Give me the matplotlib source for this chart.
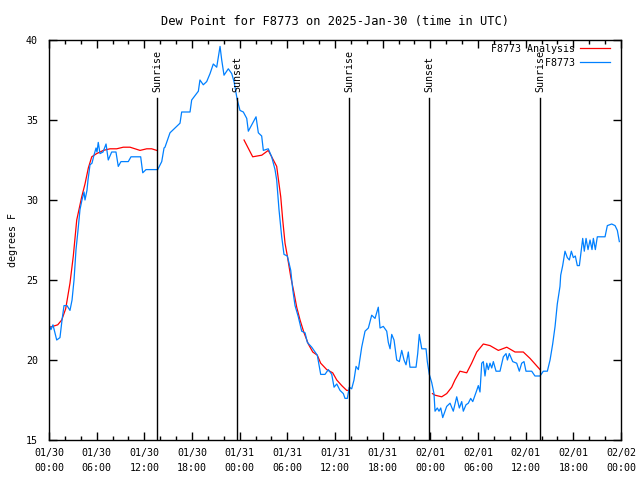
import numpy as np
from matplotlib import pyplot as plt

# hours since 2025-01-30 00:00 UTC
obs_hours = [0.0, 0.25, 0.5, 0.97, 1.38, 1.64, 1.89, 2.27, 2.64, 2.9, 3.15, 3.27, 3.4, 3.65,
             3.9, 4.15, 4.41, 4.53, 4.78, 4.91, 5.16, 5.41, 5.66, 5.92, 6.04, 6.2, 6.42, 6.8,
             7.18, 7.46, 7.89, 8.43, 8.72, 9.06, 9.98, 10.32, 11.54, 11.8, 12.21, 13.68, 14.19,
             14.48, 14.6, 15.23, 15.86, 16.49, 16.7, 17.75, 17.96, 18.8, 19.0, 19.42, 19.85,
             20.27, 20.68, 21.11, 21.53, 21.74, 22.03, 22.57, 23.0, 23.29, 23.7, 24.04, 24.46,
             24.89, 25.09, 25.52, 26.06, 26.35, 26.77, 26.98, 27.6, 28.03, 28.45, 28.66, 28.95,
             29.29, 29.58, 30.0, 30.43, 30.68, 30.97, 31.38, 31.81, 32.23, 32.52, 33.07, 33.77,
             34.2, 34.74, 35.16, 35.59, 35.88, 36.22, 36.63, 37.05, 37.26, 37.55, 37.8, 38.1,
             38.39, 38.65, 38.94, 39.36, 39.78, 40.2, 40.62, 41.04, 41.45, 41.67, 42.08, 42.51,
             42.71, 42.93, 43.14, 43.43, 43.77, 44.1, 44.4, 44.69, 44.94, 45.23, 45.44, 46.2,
             46.41, 46.61, 46.92, 47.46, 47.62, 47.87, 48.17, 48.46, 48.59, 48.88, 49.09, 49.31,
             49.56, 49.85, 50.06, 50.48, 50.89, 51.32, 51.65, 51.95, 52.15, 52.49, 52.78, 53.08,
             53.34, 53.63, 53.84, 54.04, 54.25, 54.47, 54.67, 54.88, 55.1, 55.3, 55.51, 55.73,
             55.93, 56.27, 56.77, 57.19, 57.53, 57.7, 57.94, 58.37, 58.87, 59.2, 59.5, 59.79,
             60.04, 60.76, 61.17, 61.81, 62.22, 62.73, 63.07, 63.4, 63.7, 63.98, 64.32, 64.41,
             64.66, 64.95, 65.24, 65.5, 65.75, 66.0, 66.25, 66.5, 66.76, 66.93, 67.18, 67.38,
             67.6, 67.85, 68.1, 68.35, 68.52, 68.77, 69.02, 69.99, 70.28, 70.83, 71.25, 71.54,
             71.79]
obs_dewpt = [22.2, 21.9, 22.2, 21.25, 21.4, 22.5, 23.4, 23.4, 23.1, 23.75, 25.0, 25.9, 26.9, 28.1,
             29.4, 30.0, 30.5, 30.0, 30.6, 31.25, 32.2, 32.3, 32.8, 33.25, 33.0, 33.6, 32.9, 33.0,
             33.5, 32.5, 33.0, 33.0, 32.1, 32.4, 32.4, 32.7, 32.7, 31.7, 31.9, 31.9, 32.4,
             33.25, 33.3, 34.2, 34.5, 34.8, 35.5, 35.5, 36.25, 36.8, 37.5, 37.2, 37.4,
             37.9, 38.5, 38.3, 39.6, 38.75, 37.8, 38.2, 37.9, 37.4, 36.25, 35.6, 35.5,
             35.1, 34.3, 34.7, 35.2, 34.2, 34.0, 33.1, 33.2, 32.7, 31.9, 31.25, 29.4,
             27.7, 26.6, 26.5, 25.6, 24.4, 23.4, 22.7, 21.8, 21.7, 21.1, 20.8, 20.3,
             19.1, 19.1, 19.4, 19.1, 18.3, 18.5, 18.1, 17.9, 17.6, 17.6, 18.3, 18.2,
             18.75, 19.6, 19.4, 20.8, 21.8, 22.0, 22.8, 22.6, 23.3, 22.0, 22.1, 21.8,
             21.1, 20.7, 21.6, 21.25, 20.0, 19.9, 20.6, 20.0, 19.7, 20.5, 19.55, 19.55,
             20.4, 21.6, 20.7, 20.7, 19.9, 19.1, 18.6, 17.9, 16.8, 17.0, 16.8, 17.0,
             16.4, 16.8, 17.1, 17.3, 16.8, 17.7, 17.0, 17.4, 16.8, 17.2, 17.3, 17.6,
             17.4, 17.8, 18.1, 18.4, 18.0, 19.8, 19.9, 19.0, 19.8, 19.4, 19.8, 19.5,
             19.9, 19.3, 19.3, 20.2, 20.4, 20.0, 20.4, 19.9, 19.8, 19.3, 19.8, 19.9,
             19.3, 19.3, 19.0, 19.0, 19.3, 19.3, 20.0, 21.0, 22.1, 23.5, 24.6, 25.3,
             25.9, 26.8, 26.4, 26.25, 26.8, 26.4, 26.5, 25.9, 25.9, 26.6, 27.6, 26.8,
             27.6, 26.9, 27.5, 26.9, 27.6, 26.9, 27.7, 27.7, 28.4, 28.5, 28.4, 28.1,
             27.4]

# analysis, nan marks the gaps
ana_hours = [0.13, 0.34, 1.1, 1.6, 2.1, 2.64, 3.06, 3.49, 4.12, 4.53, 4.95, 5.38, 6.0, 6.84,
             7.68, 8.52, 9.35, 10.2, 10.83, 11.46, 12.3, 12.93, 13.56, 19.0,
             24.55, 25.64, 26.78, 27.6, 28.24, 28.66, 28.86, 29.17, 29.42, 29.71, 30.0, 30.43,
             30.84, 31.18, 31.6, 32.1, 32.64, 33.2, 33.77, 34.2, 34.96, 35.71, 36.22, 36.85,
             37.47, 37.68, 43.0,
             48.27, 48.59, 49.43, 50.06, 50.69, 51.1, 51.73, 52.58, 53.2, 53.84, 54.67, 55.51,
             56.56, 57.62, 58.66, 59.7, 60.55, 61.81]
ana_dewpt = [22.06, 22.08, 22.2, 22.5, 23.2, 24.8, 26.5, 28.75, 30.2, 31.0, 32.0, 32.7, 32.9, 33.1,
             33.2, 33.2, 33.3, 33.3, 33.2, 33.1, 33.2, 33.2, 33.1, np.nan,
             33.75, 32.7, 32.8, 33.1, 32.5, 32.1, 31.35, 30.2, 28.75, 27.3, 26.5, 25.2,
             24.2, 23.3, 22.5, 21.7, 21.0, 20.5, 20.3, 19.8, 19.4, 19.2, 18.75, 18.4,
             18.1, 18.1, np.nan,
             17.9, 17.8, 17.7, 17.9, 18.3, 18.75, 19.3, 19.2, 19.8, 20.5, 21.0, 20.9,
             20.6, 20.8, 20.5, 20.5, 20.1, 19.4]

sun_hours = [13.63, 23.72, 37.8, 47.87, 61.85]
sun_labels = ['Sunrise', 'Sunset', 'Sunrise', 'Sunset', 'Sunrise']

tick_hours = list(range(0, 73, 6))
tick_labels = ['01/30\n00:00', '01/30\n06:00', '01/30\n12:00', '01/30\n18:00',
               '01/31\n00:00', '01/31\n06:00', '01/31\n12:00', '01/31\n18:00',
               '02/01\n00:00', '02/01\n06:00', '02/01\n12:00', '02/01\n18:00',
               '02/02\n00:00']

plt.rcParams['font.family'] = 'DejaVu Sans Mono'
plt.rcParams['font.size'] = 7.2

fig = plt.figure(figsize=(6.4, 4.8), dpi=100)
ax = fig.add_axes([49 / 640, 40 / 480, 572 / 640, 400 / 480])

ax.plot(ana_hours, ana_dewpt, color='#ff0000', lw=0.9, label='F8773 Analysis')
ax.plot(obs_hours, obs_dewpt, color='#0080ff', lw=0.9, label='         F8773')

for h, lab in zip(sun_hours, sun_labels):
    ax.axvline(h, ymin=0, ymax=0.855, color='black', lw=1.0)
    ax.text(h, 0.87, lab, rotation=90, ha='center', va='bottom',
            transform=ax.get_xaxis_transform())

ax.set_xlim(0, 72)
ax.set_ylim(15, 40)
ax.set_xticks(tick_hours)
ax.set_xticklabels(tick_labels, linespacing=1.6)
ax.set_xticks(np.arange(0, 73, 2), minor=True)
ax.set_yticks([15, 20, 25, 30, 35, 40])
ax.tick_params(direction='in', top=True, right=True, length=6, width=1, pad=6)
ax.tick_params(which='minor', direction='in', top=True, length=3, width=1)
ax.tick_params(axis='y', pad=8)
for s in ax.spines.values():
    s.set_linewidth(1.0)

ax.set_ylabel('degrees F', labelpad=6)
ax.set_title('Dew Point for F8773 on 2025-Jan-30 (time in UTC)', pad=11)

leg = ax.legend(loc='upper right', bbox_to_anchor=(0.984, 0.995), markerfirst=False,
                frameon=False, handlelength=3.0, handletextpad=0.5, labelspacing=0.4,
                borderaxespad=0.0, borderpad=0.2)

plt.savefig('out.png', dpi=100)
